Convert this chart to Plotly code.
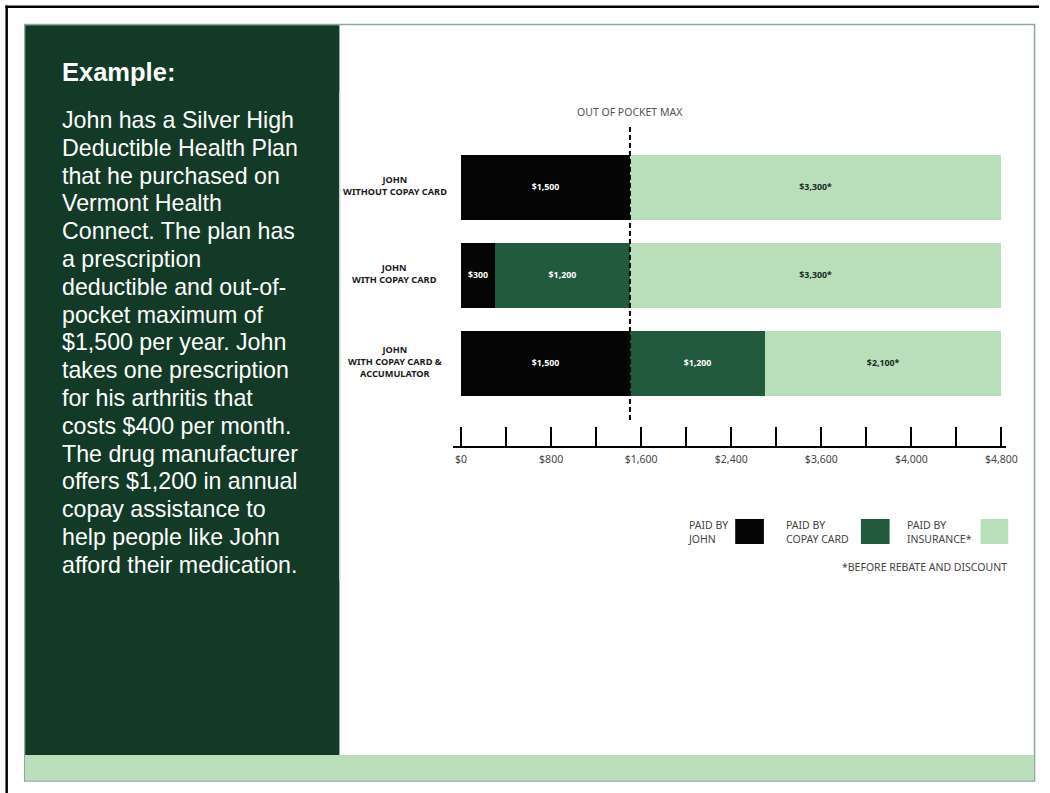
import plotly.graph_objects as go

# ---------------- data ----------------
categories = ["JOHN<br>WITHOUT COPAY CARD", "JOHN<br>WITH COPAY CARD", "JOHN<br>WITH COPAY CARD &<br>ACCUMULATOR"]
paid_by_john = [1500, 300, 1500]
paid_by_copay_card = [0, 1200, 1200]
paid_by_insurance = [3300, 3300, 2100]
series_names = ["PAID BY<br>JOHN", "PAID BY<br>COPAY CARD", "PAID BY<br>INSURANCE*"]
series_colors = ["#050505", "#225a3e", "#b9dfba"]
series_text_colors = ["#ffffff", "#ffffff", "#1c2a1f"]
out_of_pocket_max = 1500
tick_values = [0, 800, 1600, 2400, 3200, 4000, 4800]
tick_labels = ["$0", "$800", "$1,600", "$2,400", "$3,600", "$4,000", "$4,800"]
minor_tick_step = 400
oop_label = "OUT OF POCKET MAX"
footnote = "*BEFORE REBATE AND DISCOUNT"
panel_title = "Example:"
panel_lines = [
    "John has a Silver High",
    "Deductible Health Plan",
    "that he purchased on",
    "Vermont Health",
    "Connect. The plan has",
    "a prescription",
    "deductible and out-of-",
    "pocket maximum of",
    "$1,500 per year. John",
    "takes one prescription",
    "for his arthritis that",
    "costs $400 per month.",
    "The drug manufacturer",
    "offers $1,200 in annual",
    "copay assistance to",
    "help people like John",
    "afford their medication.",
]

# ---------------- helpers ----------------
W, H = 1050, 793


def fx(p):
    return p / W


def fy(p):
    return 1 - p / H


def fmt(v, star=False):
    if not v:
        return ""
    return f"${v:,}" + ("*" if star else "")


CHART_FONT = "Noto Sans, Open Sans, sans-serif"
PANEL_FONT = "Liberation Sans, Arial, sans-serif"

fig = go.Figure()

series_values = [paid_by_john, paid_by_copay_card, paid_by_insurance]
for i, (name, vals) in enumerate(zip(series_names, series_values)):
    fig.add_trace(go.Bar(
        y=categories,
        x=vals,
        name=name,
        orientation="h",
        marker=dict(color=series_colors[i], line=dict(width=0)),
        width=0.74,
        text=[fmt(v, star=(i == 2)) for v in vals],
        textposition="inside",
        insidetextanchor="middle",
        textangle=0,
        constraintext="none",
        textfont=dict(family=CHART_FONT, size=8.8, color=series_text_colors[i], weight=700),
        showlegend=False,
        hoverinfo="skip",
    ))

# plot area geometry (pixels)
x_left_px, x_right_px = 458, 1017
y_top_px, y_bot_px = 127, 446
x_range = [-70, 4844]
y_range = [2.9375, -0.682]

fig.update_layout(
    width=W, height=H,
    margin=dict(l=0, r=0, t=0, b=0),
    paper_bgcolor="white",
    plot_bgcolor="rgba(0,0,0,0)",
    barmode="stack",
    uniformtext=dict(minsize=8, mode="show"),
    xaxis=dict(
        domain=[fx(x_left_px), fx(x_right_px)],
        range=x_range,
        showgrid=False, zeroline=False,
        showline=True, linecolor="black", linewidth=2,
        ticks="inside", ticklen=19, tickwidth=2, tickcolor="black",
        tickvals=tick_values, ticktext=tick_labels,
        tickfont=dict(family=CHART_FONT, size=10.5, color="#444444"),
        ticklabelstandoff=2,
        minor=dict(dtick=minor_tick_step, tick0=0, ticks="inside", ticklen=19,
                   tickwidth=2, tickcolor="black", showgrid=False),
        fixedrange=True,
    ),
    yaxis=dict(
        domain=[fy(y_bot_px), fy(y_top_px)],
        type="category",
        categoryorder="array", categoryarray=categories,
        range=y_range,
        showgrid=False, zeroline=False, showline=False,
        showticklabels=False, ticks="",
        fixedrange=True,
    ),
)

shapes = []
# outer black frame lines
shapes.append(dict(type="rect", xref="paper", yref="paper", x0=fx(5.5), x1=fx(1050), y0=fy(8), y1=fy(5.5),
                   fillcolor="black", line=dict(width=0), layer="below"))
shapes.append(dict(type="rect", xref="paper", yref="paper", x0=fx(5.5), x1=fx(8), y0=0, y1=fy(5.5),
                   fillcolor="black", line=dict(width=0), layer="below"))
# inner slide box
shapes.append(dict(type="rect", xref="paper", yref="paper", x0=fx(25), x1=fx(1045.5), y0=fy(781), y1=fy(24.5),
                   fillcolor="white", line=dict(color="#8ea7a3", width=1.5), layer="below"))
# dark green side panel
shapes.append(dict(type="rect", xref="paper", yref="paper", x0=fx(25.5), x1=fx(343), y0=fy(755), y1=fy(25.2),
                   fillcolor="#133a27", line=dict(width=0), layer="below"))
# light green bottom strip
shapes.append(dict(type="rect", xref="paper", yref="paper", x0=fx(25.5), x1=fx(1045), y0=fy(780.3), y1=fy(755),
                   fillcolor="#bbdfbb", line=dict(width=0), layer="below"))
# faint picture border
shapes.append(dict(type="line", xref="paper", yref="paper", x0=fx(343.5), x1=fx(343.5), y0=fy(92), y1=fy(581),
                   line=dict(color="#d3dbd8", width=1.5), layer="below"))
# out-of-pocket-max dashed line
shapes.append(dict(type="line", xref="x", yref="y domain", x0=out_of_pocket_max, x1=out_of_pocket_max,
                   y0=(y_bot_px - 420) / (y_bot_px - y_top_px), y1=1,
                   line=dict(color="black", width=2, dash="5px,3px"), layer="above"))

# custom legend squares
legend_sq_x = [(743, 772), (870, 899), (991, 1019)]
legend_txt_x = [694, 793, 916]
for (a, b), col in zip(legend_sq_x, series_colors):
    shapes.append(dict(type="rect", xref="paper", yref="paper", x0=fx(a), x1=fx(b), y0=fy(544), y1=fy(519),
                       fillcolor=col, line=dict(width=0)))

fig.update_layout(shapes=shapes)

ann = []
# panel title and text
ann.append(dict(text=f"<b>{panel_title}</b>", xref="paper", yref="paper", x=fx(61), y=fy(72),
                xanchor="left", yanchor="middle", showarrow=False,
                font=dict(family=PANEL_FONT, size=25.5, color="white")))
for i, line in enumerate(panel_lines):
    ann.append(dict(text=line, xref="paper", yref="paper", x=fx(61), y=fy(120 + i * 27.8),
                    xanchor="left", yanchor="middle", showarrow=False,
                    font=dict(family=PANEL_FONT, size=23.2, color="white")))

# category labels
for c in categories:
    ann.append(dict(text=c, xref="paper", yref="y", x=fx(399), y=c, xanchor="center", yanchor="middle",
                    align="center", showarrow=False, yshift=2,
                    font=dict(family=CHART_FONT, size=9.2, color="#1a1a1a", weight=700)))

# out of pocket max label
ann.append(dict(text=oop_label, xref="x", yref="paper", x=out_of_pocket_max, y=fy(112),
                xanchor="center", yanchor="middle", showarrow=False,
                font=dict(family=CHART_FONT, size=10.5, color="#555555")))

# legend labels
for xl, name in zip(legend_txt_x, series_names):
    ann.append(dict(text=name, xref="paper", yref="paper", x=fx(xl - 1), y=fy(531.5),
                    xanchor="left", yanchor="middle", align="left", showarrow=False,
                    font=dict(family=CHART_FONT, size=10.5, color="#444444")))

# footnote
ann.append(dict(text=footnote, xref="paper", yref="paper", x=fx(1020), y=fy(567),
                xanchor="right", yanchor="middle", showarrow=False,
                font=dict(family=CHART_FONT, size=10.5, color="#444444")))

fig.update_layout(annotations=ann)

fig.write_html("out.html")
